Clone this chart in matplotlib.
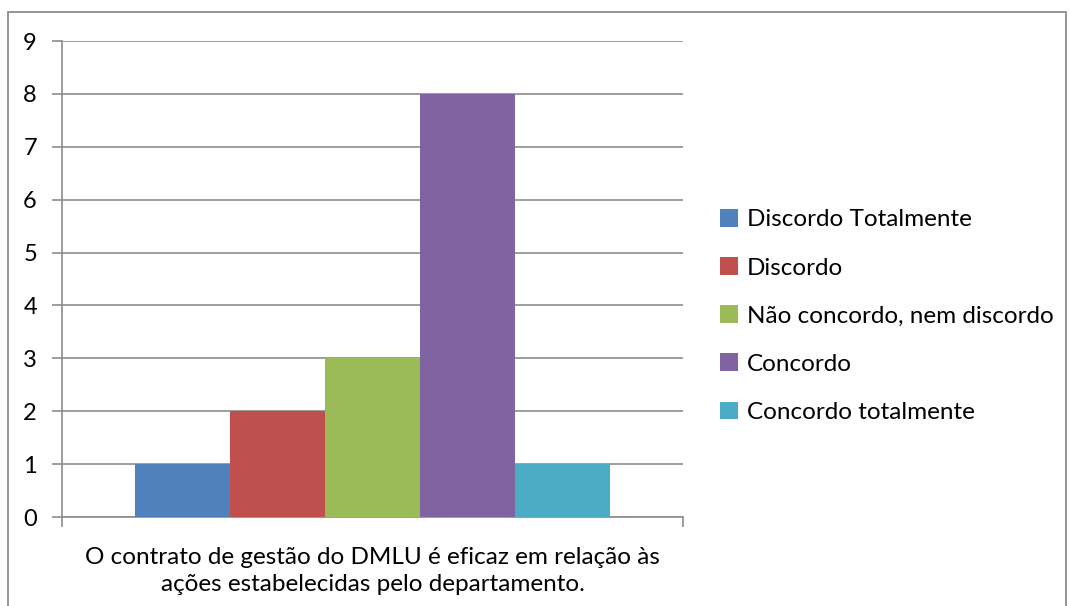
import matplotlib
matplotlib.use("Agg")
import matplotlib.pyplot as plt
from matplotlib.patches import Rectangle, Patch

plt.rcParams['font.family'] = ['Lato', 'DejaVu Sans']

# dados
categorias = ['Discordo Totalmente', 'Discordo', 'Não concordo, nem discordo',
              'Concordo', 'Concordo totalmente']
valores = [1, 2, 3, 8, 1]
cores = ['#4F81BD', '#C0504D', '#9BBB59', '#8064A2', '#4BACC6']
rotulo_x = 'O contrato de gestão do DMLU é eficaz em relação às\nações estabelecidas pelo departamento.'

W, H = 1070, 606
fig = plt.figure(figsize=(W/100, H/100), dpi=100)
ax = fig.add_axes([62/W, 1 - 517/H, (683-62)/W, (517-41)/H])

n = len(valores)
bw = 475/621/n
x0 = -bw*n/2 + bw/2
for i in range(n):
    ax.bar(x0 + i*bw, valores[i], width=bw, color=cores[i], zorder=3)

ax.set_xlim(-0.5, 0.5)
ax.set_ylim(0, 9)
ax.set_yticks(range(10))
ax.yaxis.grid(True, color='#8c8c8c', lw=1.2, zorder=0)
ax.set_xticks([-0.5, 0.5])
ax.set_xticklabels([])
ax.tick_params(axis='x', length=7, color='#8c8c8c', width=1.2, direction='out')
ax.tick_params(axis='y', length=7, color='#8c8c8c', width=1.2, labelsize=17, pad=11)
for s in ['top', 'right']:
    ax.spines[s].set_visible(False)
for s in ['left', 'bottom']:
    ax.spines[s].set_color('#8c8c8c')
    ax.spines[s].set_linewidth(1.2)

ax.set_xlabel(rotulo_x, fontsize=17.5, labelpad=11, linespacing=1.35)

handles = [Patch(facecolor=c) for c in cores]
fig.legend(handles, categorias, loc='center left', bbox_to_anchor=(715/W, 1 - 316/H),
           frameon=False, fontsize=17.5, handlelength=0.75, handleheight=0.75,
           labelspacing=1.1, handletextpad=0.35, borderaxespad=0, borderpad=0.2)

fig.patches.append(Rectangle((8/W, -0.05), (1066-8)/W, 1 - 12/H + 0.05,
                             transform=fig.transFigure, fill=False,
                             edgecolor='#8c8c8c', lw=1.3))

fig.savefig('out.png', dpi=100)
